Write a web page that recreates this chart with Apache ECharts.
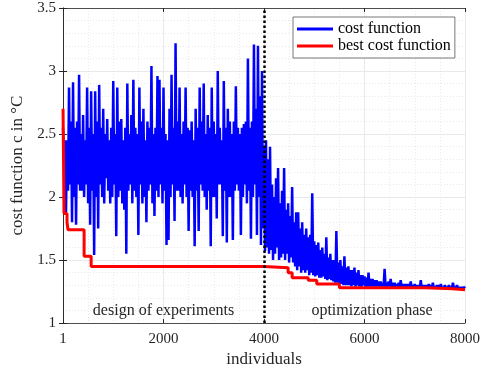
<!DOCTYPE html>
<html>
<head>
<meta charset="utf-8">
<script src="https://cdn.jsdelivr.net/npm/echarts@6/dist/echarts.min.js"></script>
<style>
html,body{margin:0;padding:0;background:#fff;}
#main{width:493px;height:373px;}
</style>
</head>
<body>
<div id="main"></div>
<script>
// cost function, read off the plot as upper / lower swing per 40 individuals
// design of experiments: 0..3960 (upper at k*40, lower at k*40+20)
var doeUpper = [
	2.55,2.45,2.45,2.87,2.60,2.91,2.55,2.60,2.97,2.50,
	2.65,2.45,2.87,2.55,2.84,2.50,2.84,2.60,2.89,2.55,
	2.70,2.50,2.62,2.45,2.55,2.92,2.50,2.87,2.60,2.62,
	2.45,2.55,2.90,2.50,2.65,2.93,2.55,2.50,2.87,2.60,
	2.70,2.45,2.60,2.55,3.04,2.50,2.55,2.96,2.93,2.55,
	2.87,2.50,2.45,2.70,2.97,2.55,3.22,2.60,2.87,2.50,
	2.60,2.87,2.55,2.53,2.60,2.45,2.70,2.55,2.87,2.60,
	2.90,2.50,2.65,2.55,2.87,2.60,2.50,3.00,2.55,2.45,
	2.92,2.55,2.70,2.60,2.50,2.60,2.88,2.55,2.50,2.55,
	2.58,2.60,3.10,2.55,2.60,3.21,2.70,3.20,2.80,3.00
];
var doeLower = [
	2.30,1.88,2.05,2.10,1.80,2.00,1.78,2.10,2.05,2.05,
	2.00,2.10,1.95,1.78,2.05,1.54,2.00,1.75,2.10,2.00,
	1.95,2.15,2.05,1.95,2.00,2.10,1.69,2.00,2.05,1.95,
	1.90,1.55,2.05,2.10,1.95,2.05,2.00,1.70,2.10,1.95,
	2.00,1.80,2.05,2.10,1.95,1.85,2.05,2.00,2.10,1.95,
	2.05,1.62,1.66,2.00,2.10,1.81,2.05,2.05,2.00,1.95,
	2.10,2.00,1.73,2.05,2.00,1.61,2.05,1.73,2.10,2.05,
	2.00,1.90,2.05,1.61,2.00,2.00,1.83,2.10,2.10,1.69,
	2.05,1.64,2.00,2.00,1.66,2.05,2.10,2.05,1.70,2.00,
	2.10,1.95,2.05,1.67,2.00,2.10,1.70,2.00,1.62,1.75
];
// optimization phase: 4000..8000 (upper at 4000+k*40, lower at 4020+k*40)
var optUpper = [
	2.40,2.45,2.30,2.40,2.10,2.00,2.15,2.23,1.95,2.05,
	2.23,1.90,1.95,1.85,2.08,1.80,1.88,1.88,1.75,1.80,
	1.70,1.75,1.68,1.70,2.03,1.65,1.62,1.64,1.58,1.60,
	1.55,1.68,1.52,1.55,1.50,1.50,1.73,1.48,1.50,1.45,
	1.53,1.44,1.45,1.42,1.42,1.44,1.40,1.42,1.38,1.38,
	1.37,1.36,1.40,1.35,1.35,1.34,1.34,1.33,1.33,1.32,
	1.43,1.32,1.33,1.35,1.32,1.32,1.31,1.32,1.34,1.31,
	1.31,1.31,1.31,1.33,1.30,1.31,1.30,1.30,1.34,1.30,
	1.30,1.30,1.31,1.30,1.32,1.29,1.30,1.30,1.31,1.29,
	1.30,1.29,1.30,1.29,1.32,1.29,1.30,1.29,1.29,1.29,
	1.29
];
var optLower = [
	1.57,1.60,1.55,1.58,1.50,1.55,1.60,1.50,1.52,1.55,
	1.50,1.55,1.48,1.52,1.48,1.45,1.42,1.45,1.40,1.42,
	1.40,1.42,1.38,1.40,1.38,1.37,1.38,1.36,1.36,1.37,
	1.35,1.34,1.35,1.34,1.33,1.32,1.32,1.31,1.31,1.30,
	1.30,1.30,1.30,1.29,1.30,1.29,1.30,1.29,1.29,1.30,
	1.29,1.29,1.29,1.29,1.29,1.29,1.29,1.29,1.29,1.29,
	1.29,1.285,1.29,1.285,1.285,1.285,1.285,1.28,1.285,1.28,
	1.28,1.28,1.28,1.28,1.28,1.28,1.28,1.28,1.28,1.28,
	1.28,1.28,1.28,1.28,1.28,1.28,1.28,1.28,1.28,1.28,
	1.28,1.28,1.28,1.28,1.28,1.28,1.28,1.28,1.28,1.28
];
// best cost so far: [individual, value]
var bestCost = [
	[1,2.70],[20,1.87],[80,1.80],[100,1.74],[420,1.53],[560,1.45],
	[4000,1.44],[4480,1.40],[4560,1.36],[4880,1.34],[5050,1.31],
	[5500,1.28],[7200,1.272],[7750,1.265],[8000,1.265]
];
var xTicks = ['1','2000','4000','6000','8000'];
var phaseSwitch = 4000;
var phaseLabels = [
	{text:'design of experiments', x:2000, y:1.1},
	{text:'optimization phase', x:6150, y:1.1}
];

var font = 'Liberation Serif';
var axisCol = '#262626';

var costData = [];
doeUpper.forEach(function(v,k){
	costData.push([k*40, v]);
	costData.push([k*40+20, doeLower[k]]);
});
optUpper.forEach(function(v,k){
	costData.push([4000+k*40, v]);
	if (k < optLower.length) costData.push([4020+k*40, optLower[k]]);
});

var myChart = echarts.init(document.getElementById('main'));
var option = {
	animation:false,
	textStyle:{fontFamily:font},
	grid:{left:63,right:28,top:8,bottom:48,show:false},
	legend:{
		orient:'vertical',
		left:293, top:17,
		padding:[4,4,4,4],
		itemGap:1,
		itemWidth:36, itemHeight:3,
		backgroundColor:'#fff',
		borderColor:'#555', borderWidth:0.8,
		textStyle:{fontFamily:font,fontSize:16,color:'#000'},
		data:[{name:'cost function',icon:'rect'},{name:'best cost function',icon:'rect'}]
	},
	xAxis:[{
		type:'value', min:0, max:8000, interval:2000,
		name:'individuals', nameLocation:'middle', nameGap:26,
		nameTextStyle:{fontFamily:font,fontSize:17,color:axisCol},
		axisLine:{show:true,lineStyle:{color:axisCol,width:0.8}},
		axisTick:{show:true,inside:true,length:4,lineStyle:{color:axisCol}},
		axisLabel:{fontFamily:font,fontSize:15,color:axisCol,margin:8,
			formatter:function(v){ return xTicks[v/2000]; }},
		splitLine:{show:true,lineStyle:{color:'#e3e3e3',width:0.8}},
		minorTick:{show:false,splitNumber:4},
		minorSplitLine:{show:true,lineStyle:{color:'#e3e3e3',width:0.8,type:[1,2]}}
	},{
		type:'value', min:0, max:8000, interval:2000, position:'top',
		axisLine:{show:true,lineStyle:{color:axisCol,width:0.8}},
		axisTick:{show:true,inside:true,length:4,lineStyle:{color:axisCol}},
		axisLabel:{show:false}, splitLine:{show:false}
	}],
	yAxis:[{
		type:'value', min:1, max:3.5, interval:0.5,
		name:'cost function c in °C', nameLocation:'middle', nameGap:30,
		nameTextStyle:{fontFamily:font,fontSize:17,color:axisCol},
		axisLine:{show:true,lineStyle:{color:axisCol,width:0.8}},
		axisTick:{show:true,inside:true,length:4,lineStyle:{color:axisCol}},
		axisLabel:{fontFamily:font,fontSize:15,color:axisCol,margin:7},
		splitLine:{show:true,lineStyle:{color:'#e3e3e3',width:0.8}},
		minorTick:{show:false,splitNumber:5},
		minorSplitLine:{show:true,lineStyle:{color:'#e3e3e3',width:0.8,type:[1,2]}}
	},{
		type:'value', min:1, max:3.5, interval:0.5, position:'right',
		axisLine:{show:true,lineStyle:{color:axisCol,width:0.8}},
		axisTick:{show:true,inside:true,length:4,lineStyle:{color:axisCol}},
		axisLabel:{show:false}, splitLine:{show:false}
	}],
	series:[{
		name:'cost function', type:'line', showSymbol:false,
		data:costData,
		itemStyle:{color:'#0000ff'},
		lineStyle:{color:'#0000ff',width:2.5},
		markLine:{
			silent:true, symbol:'none', label:{show:false},
			lineStyle:{color:'#000',width:2.5,type:[2.5,2.5]},
			data:[{xAxis:phaseSwitch}]
		},
		markPoint:{
			silent:true, symbolSize:0,
			label:{show:true,position:'inside',fontFamily:font,fontSize:16,color:axisCol,
				formatter:function(p){ return p.name; }},
			data:phaseLabels.map(function(d){ return {name:d.text,coord:[d.x,d.y]}; })
		}
	},{
		name:'best cost function', type:'line', showSymbol:false, step:'end',
		data:bestCost,
		itemStyle:{color:'#ff0000'},
		lineStyle:{color:'#ff0000',width:3}
	}]
};
myChart.setOption(option);
window.addEventListener("resize",function(){
	myChart.resize();
});
</script>
</body>
</html>
